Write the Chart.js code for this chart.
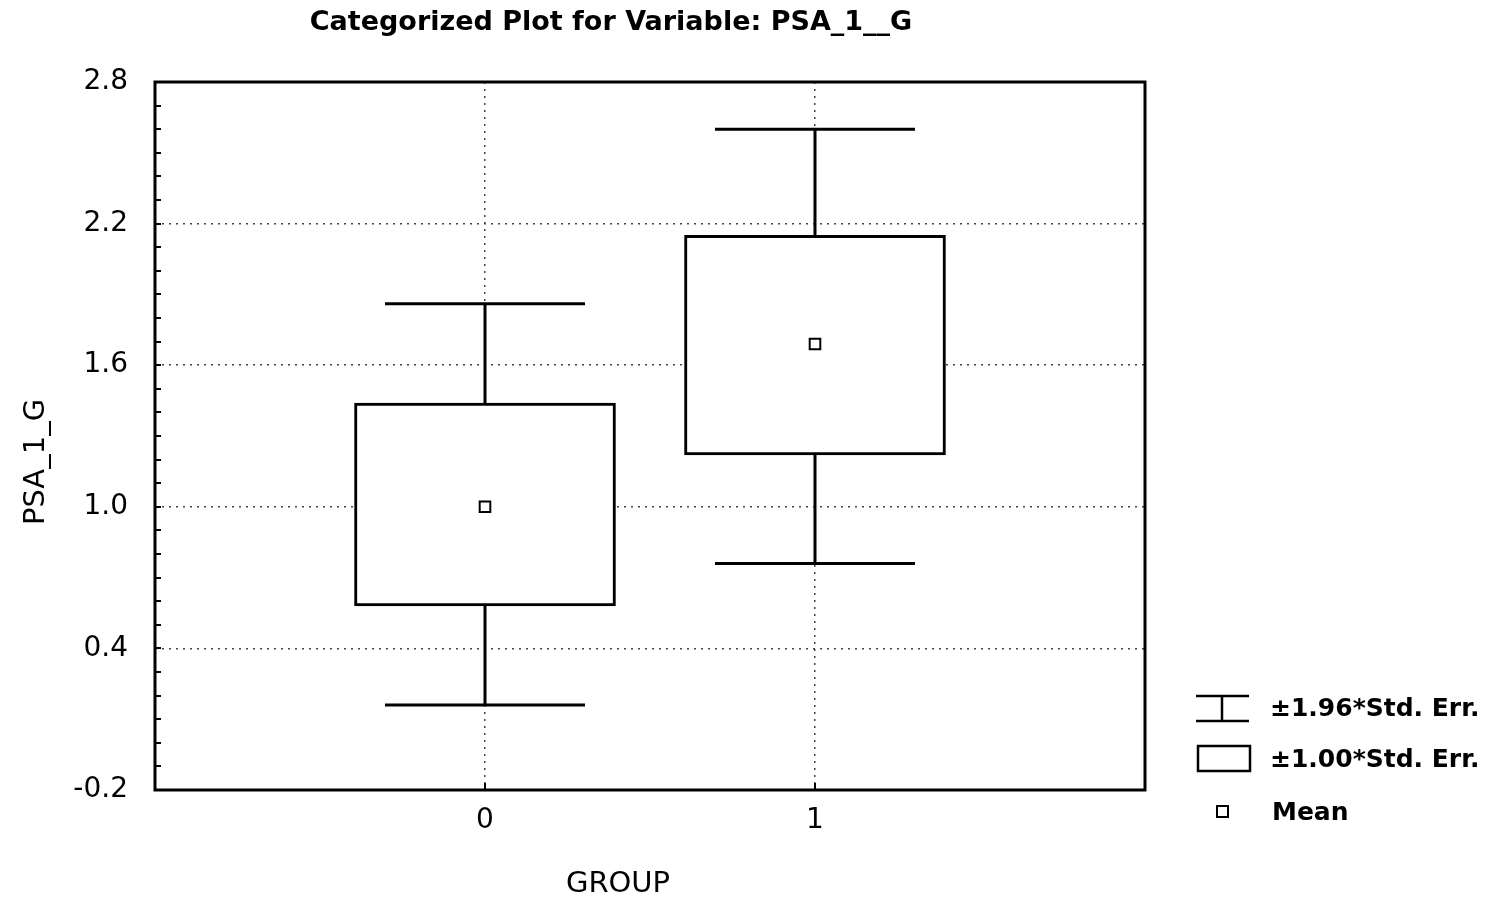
<!DOCTYPE html>
<html>
<head>
<meta charset="utf-8">
<script src="https://cdn.jsdelivr.net/npm/chart.js@4.4.1/dist/chart.umd.min.js"></script>
<style>
html,body{margin:0;padding:0;background:#fff;}
canvas{display:block;}
</style>
</head>
<body>
<canvas id="c" width="1485" height="898"></canvas>
<script>
const groups = [0, 1];
const groupLabels = ['0', '1'];
const means = [1.00, 1.69];
const seLow = [0.58, 1.22];
const seHigh = [1.44, 2.15];
const ciLow = [0.16, 0.76];
const ciHigh = [1.86, 2.60];
const yTicks = [-0.2, 0.4, 1.0, 1.6, 2.2, 2.8];
const yTickLabels = ['-0.2', '0.4', '1.0', '1.6', '2.2', '2.8'];
const titleText = 'Categorized Plot for Variable: PSA_1__G';
const xTitle = 'GROUP';
const yTitle = 'PSA_1_G';
const legendLabels = ['\u00b11.96*Std. Err.', '\u00b11.00*Std. Err.', 'Mean'];

const TXT = 'DejaVu Sans';

const boxData = groups.map((g, i) => ({x: g, y: [seLow[i], seHigh[i]]}));
const meanData = groups.map((g, i) => ({x: g, y: means[i]}));

const decor = {
  id: 'decor',
  beforeDatasetsDraw(chart) {
    const {ctx, scales: {x, y}} = chart;
    ctx.save();
    ctx.strokeStyle = '#000';
    ctx.lineWidth = 3;
    ctx.lineCap = 'butt';
    groups.forEach((g, i) => {
      const px = x.getPixelForValue(g);
      const t = y.getPixelForValue(ciHigh[i]);
      const b = y.getPixelForValue(ciLow[i]);
      ctx.beginPath();
      ctx.moveTo(px, t); ctx.lineTo(px, b);
      ctx.moveTo(px - 100, t); ctx.lineTo(px + 100, t);
      ctx.moveTo(px - 100, b); ctx.lineTo(px + 100, b);
      ctx.stroke();
    });
    ctx.restore();
  },
  afterDraw(chart) {
    const {ctx, chartArea: a, scales: {x, y}} = chart;
    ctx.save();
    ctx.strokeStyle = '#000';
    // frame
    ctx.lineWidth = 3;
    ctx.strokeRect(a.left, a.top, a.right - a.left, a.bottom - a.top);
    // minor ticks on y axis
    ctx.lineWidth = 2;
    ctx.beginPath();
    for (let k = 0; k <= 30; k++) {
      const v = -0.2 + k * 0.1;
      const py = Math.round(y.getPixelForValue(v));
      ctx.moveTo(a.left, py); ctx.lineTo(a.left + 6, py);
    }
    groups.forEach(g => {
      const px = x.getPixelForValue(g);
      ctx.moveTo(px, a.bottom); ctx.lineTo(px, a.bottom - 7);
    });
    ctx.stroke();
    ctx.fillStyle = '#000';
    ctx.textBaseline = 'middle';
    // title
    ctx.font = 'bold 27px "' + TXT + '"';
    ctx.textAlign = 'center';
    ctx.fillText(titleText, 611, 23);
    // axis titles
    ctx.font = '29px "' + TXT + '"';
    ctx.fillText(xTitle, 618, 884);
    ctx.save();
    ctx.translate(36, 462);
    ctx.rotate(-Math.PI / 2);
    ctx.fillText(yTitle, 0, 0);
    ctx.restore();
    // legend
    ctx.lineWidth = 2.5;
    ctx.beginPath();
    ctx.moveTo(1196, 696); ctx.lineTo(1249, 696);
    ctx.moveTo(1196, 721); ctx.lineTo(1249, 721);
    ctx.moveTo(1222, 696); ctx.lineTo(1222, 721);
    ctx.stroke();
    ctx.strokeRect(1198, 746, 52, 25);
    ctx.lineWidth = 2;
    ctx.strokeRect(1217, 806, 11, 11);
    ctx.font = 'bold 25px "' + TXT + '"';
    ctx.textAlign = 'left';
    ctx.fillText(legendLabels[0], 1270, 709);
    ctx.fillText(legendLabels[1], 1270, 760);
    ctx.fillText(legendLabels[2], 1272, 813);
    ctx.restore();
  }
};

new Chart(document.getElementById('c'), {
  data: {
    datasets: [
      {
        type: 'bar',
        data: boxData,
        backgroundColor: '#fff',
        borderColor: '#000',
        borderWidth: 3,
        borderSkipped: false,
        barThickness: 261,
        order: 2
      },
      {
        type: 'scatter',
        data: meanData,
        pointStyle: 'rect',
        pointRadius: 7.5,
        pointBackgroundColor: '#fff',
        pointBorderColor: '#000',
        pointBorderWidth: 2,
        order: 1
      }
    ]
  },
  options: {
    responsive: false,
    animation: false,
    layout: {padding: {left: 0, top: 82, right: 340, bottom: 0}},
    plugins: {legend: {display: false}, tooltip: {enabled: false}, title: {display: false}},
    scales: {
      x: {
        type: 'linear',
        min: -1, max: 2,
        offset: false,
        afterBuildTicks: s => { s.ticks = groups.map(v => ({value: v})); },
        afterFit: s => { s.height = 108; },
        ticks: {
          callback: (v, i) => groupLabels[i],
          font: {family: TXT, size: 28},
          color: '#000',
          padding: 14,
          maxRotation: 0
        },
        grid: {offset: false, color: '#444', lineWidth: 1.5, drawTicks: false},
        border: {display: false, dash: [2, 5]},
        title: {display: false}
      },
      y: {
        type: 'linear',
        min: -0.2, max: 2.8,
        afterBuildTicks: s => { s.ticks = yTicks.map(v => ({value: v})); },
        afterFit: s => { s.width = 155; },
        ticks: {
          callback: (v, i) => yTickLabels[i],
          font: {family: TXT, size: 28},
          color: '#000',
          padding: 27
        },
        grid: {color: '#444', lineWidth: 1.5, drawTicks: false},
        border: {display: false, dash: [2, 5]},
        title: {display: false}
      }
    }
  },
  plugins: [decor]
});
</script>
</body>
</html>
